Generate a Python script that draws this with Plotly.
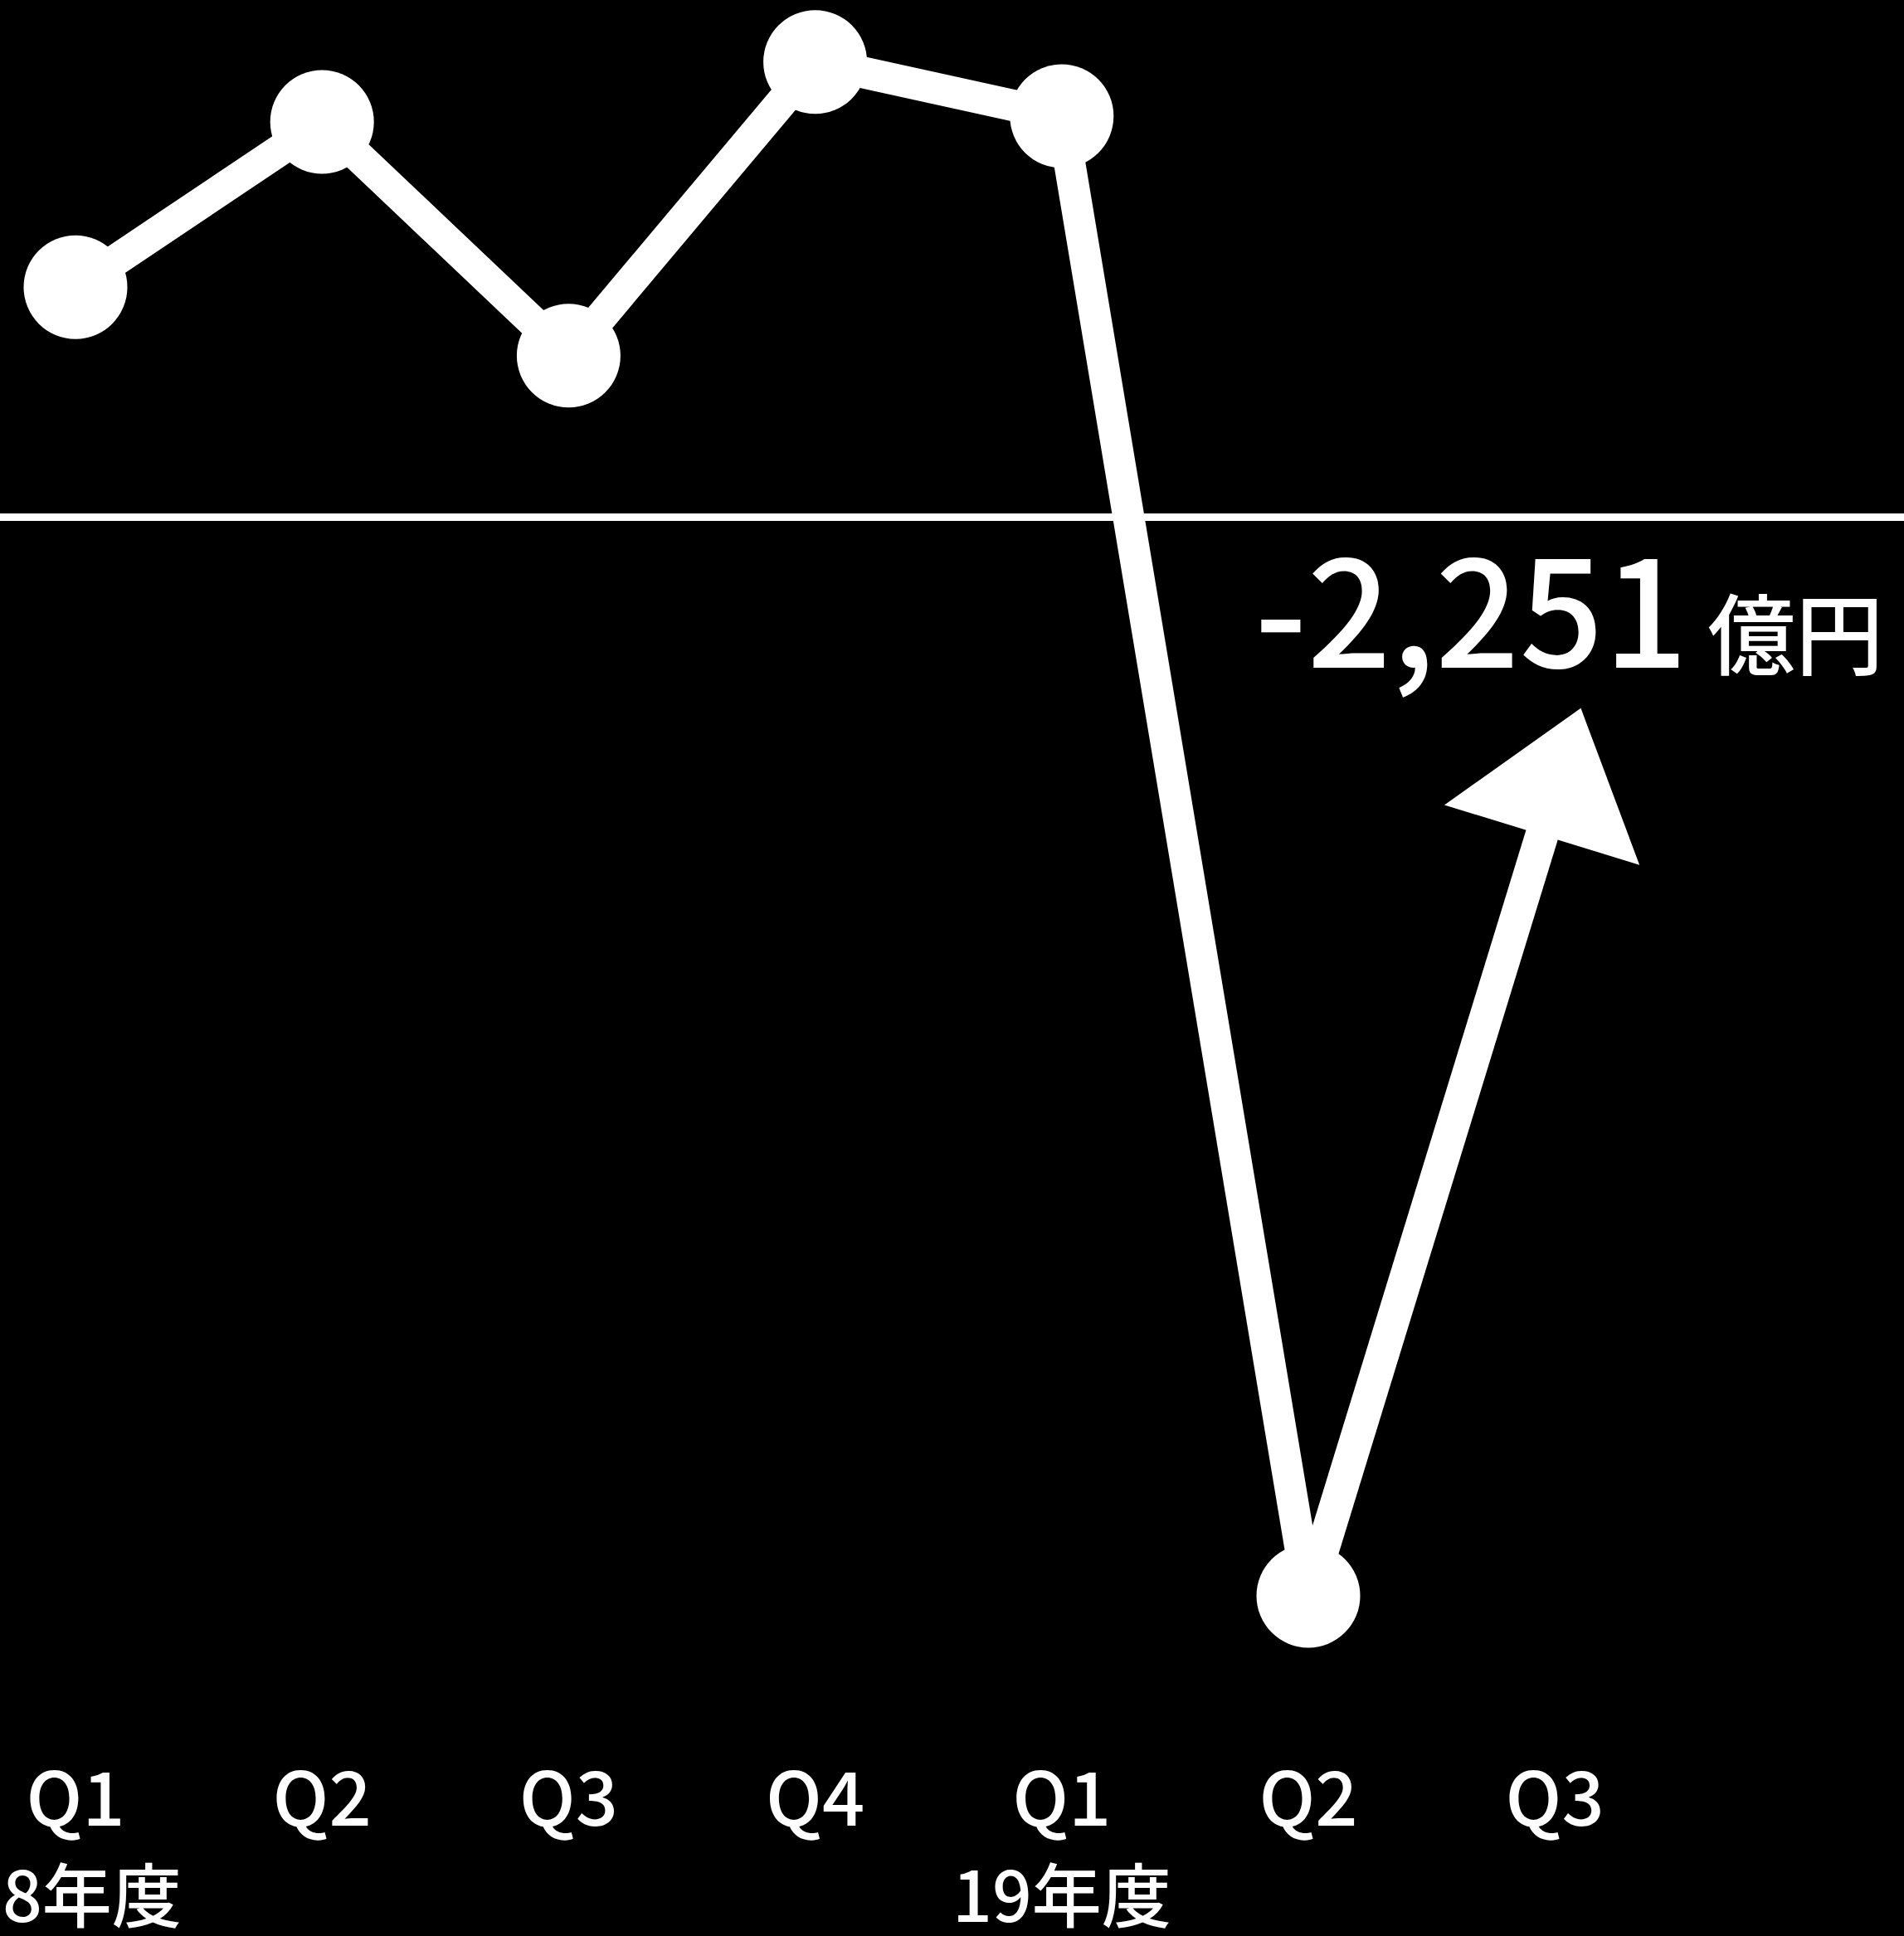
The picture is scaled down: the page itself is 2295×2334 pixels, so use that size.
import plotly.graph_objects as go

# Quarterly operating result (億円), FY2018 Q1 through FY2019 Q2
quarters = ["Q1", "Q2", "Q3", "Q4", "Q1", "Q2", "Q3"]
fiscal_years = ["18年度", "19年度"]
fiscal_year_pos = [0, 4]
profit = [480, 825, 337, 950, 837, -2251]

# Recovery arrow: from the latest quarter toward the next one
arrow_x = [5, 6]
arrow_y = [-2251, -575]

FONT = "Noto Sans CJK JP"
WEIGHT = 500
W, H = 2295, 2334
PLOT_BOTTOM = 2080

x_idx = list(range(len(profit)))

fig = go.Figure()

fig.add_trace(go.Scatter(
    x=x_idx, y=profit,
    mode="lines+markers",
    line=dict(color="white", width=38),
    marker=dict(color="white", size=125, opacity=1),
    hoverinfo="skip",
))

fig.add_trace(go.Scatter(
    x=arrow_x, y=arrow_y,
    mode="lines+markers",
    line=dict(color="white", width=40),
    marker=dict(color="white", size=[0, 213], opacity=1,
                symbol=["circle", "triangle-up"],
                angleref="previous", angle=0,
                line=dict(width=0)),
    hoverinfo="skip",
))

last = profit[-1]
fig.add_annotation(
    x=2272 / W, xref="paper", xanchor="right",
    y=1 - 727 / PLOT_BOTTOM, yref="paper", yanchor="middle",
    text=f"{last:,}<span style='font-size:106px'> 億円</span>",
    showarrow=False,
    font=dict(family=FONT, size=178, color="white", weight=WEIGHT),
)

for fy, pos, shift in zip(fiscal_years, fiscal_year_pos, [-4, 0]):
    fig.add_annotation(
        x=pos, xref="x", xanchor="center", xshift=shift,
        y=-(2280 - PLOT_BOTTOM) / PLOT_BOTTOM, yref="paper", yanchor="middle",
        text=fy, showarrow=False,
        font=dict(family=FONT, size=84, color="white", weight=WEIGHT),
    )

px_per_x = 297.2
x0_px = 91
px_per_y = 0.5777
zero_px = 623.5

fig.update_xaxes(
    range=[-x0_px / px_per_x, (W - x0_px) / px_per_x],
    tickmode="array",
    tickvals=list(range(len(quarters))),
    ticktext=quarters,
    tickfont=dict(family=FONT, size=90, color="white", weight=WEIGHT),
    ticklabeloverflow="allow",
    ticklabelstandoff=30,
    showgrid=False, zeroline=False, showline=False, ticks="",
)
fig.update_yaxes(
    range=[-(PLOT_BOTTOM - zero_px) / px_per_y, zero_px / px_per_y],
    showgrid=False, showticklabels=False, ticks="",
    zeroline=True, zerolinecolor="white", zerolinewidth=9,
)

fig.update_layout(
    width=W, height=H,
    margin=dict(l=0, r=0, t=0, b=H - PLOT_BOTTOM, pad=0),
    paper_bgcolor="black", plot_bgcolor="black",
    showlegend=False,
    font=dict(family=FONT, color="white"),
)

fig.write_html("out.html")
